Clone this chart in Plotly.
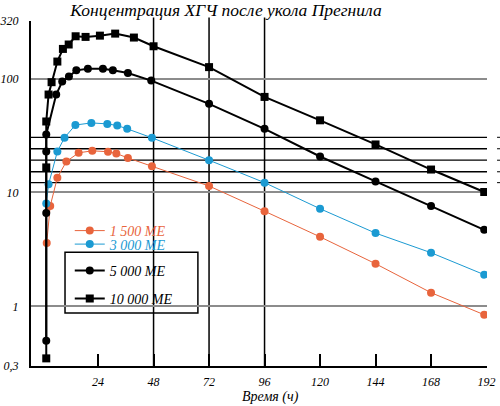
import plotly.graph_objects as go

# hours after the injection / hCG concentration (log scale)
hours_1500 = [1.8, 3.3, 6.4, 10.3, 15.6, 21.5, 28.3, 31.9, 36.9, 47.3, 72, 96, 120, 144, 168, 191]
hcg_1500 = [3.6, 7.6, 13.5, 18.7, 22.3, 23.2, 22.8, 22.0, 20.1, 17.0, 11.4, 6.85, 4.08, 2.37, 1.32, 0.845]

hours_3000 = [1.6, 2.6, 6.4, 9.5, 14.2, 21.1, 28.0, 32.3, 36.6, 47.3, 72, 96, 120, 144, 168, 191]
hcg_3000 = [8.0, 11.8, 22.9, 30.3, 39.1, 40.8, 40.0, 38.7, 36.2, 30.2, 19.2, 12.2, 7.2, 4.4, 2.96, 1.9]

hours_5000 = [1.6, 1.6, 1.6, 1.6, 5.9, 8.5, 11.4, 14.6, 19.6, 26.1, 30.4, 36.9, 47.0, 72, 96, 120, 144, 168, 191]
hcg_5000 = [0.5, 6.6, 22.9, 32.3, 72.4, 94, 104, 118, 122, 122, 118, 112, 96, 60, 36.2, 20.7, 12.5, 7.6, 4.7]

hours_10000 = [1.6, 1.6, 1.6, 2.6, 3.9, 6.4, 8.8, 11.3, 14.3, 18.6, 24.8, 31.4, 39.5, 48, 72, 96, 120, 144, 168, 191]
hcg_10000 = [0.35, 16.6, 42, 72.4, 92.9, 141, 182, 199, 235, 232, 238, 248, 229, 192, 126, 69, 43, 26.4, 15.9, 10.1]

x_ticks = [24, 48, 72, 96, 120, 144, 168, 192]
y_ticks = [0.3, 1, 10, 100, 320]
y_labels = ["0,3", "1", "10", "100", "320"]
hour_lines = [48, 72, 96]
level_lines = [12.2, 15.2, 19.2, 24.2, 30.5]

ORANGE = "#e8643c"
BLUE = "#1b9ad2"
FONT = "Liberation Serif"

fig = go.Figure()

fig.add_trace(go.Scatter(
    x=hours_1500, y=hcg_1500, mode="lines+markers", name="1 500 МЕ",
    line=dict(color=ORANGE, width=1), marker=dict(color=ORANGE, size=8),
    legend="legend", showlegend=True
))
fig.add_trace(go.Scatter(
    x=hours_3000, y=hcg_3000, mode="lines+markers", name="3 000 МЕ",
    line=dict(color=BLUE, width=1), marker=dict(color=BLUE, size=8),
    legend="legend2", showlegend=True
))
fig.add_trace(go.Scatter(
    x=hours_5000, y=hcg_5000, mode="lines+markers", name="5 000 МЕ",
    line=dict(color="black", width=2), marker=dict(color="black", size=8),
    legend="legend3", showlegend=True
))
fig.add_trace(go.Scatter(
    x=hours_10000, y=hcg_10000, mode="lines+markers", name="10 000 МЕ",
    line=dict(color="black", width=2), marker=dict(color="black", size=8, symbol="square"),
    legend="legend4", showlegend=True
))

shapes = []
# white box behind the black-series legends
shapes.append(dict(type="rect", xref="paper", yref="paper", x0=0.0746, x1=0.366, y0=0.1536, y1=0.330,
                   line=dict(color="black", width=1.5), fillcolor="white", layer="between"))
for h in hour_lines:
    shapes.append(dict(type="line", xref="x", yref="paper", x0=h, x1=h, y0=0, y1=1.01,
                       line=dict(color="black", width=1.5), layer="between"))
for v in level_lines:
    shapes.append(dict(type="line", xref="paper", yref="y", x0=0, x1=1, y0=v, y1=v,
                       line=dict(color="black", width=1.3), layer="between"))
    shapes.append(dict(type="line", xref="paper", yref="y", x0=1.022, x1=1.03, y0=v, y1=v,
                       line=dict(color="black", width=1), layer="between"))

leg = dict(bgcolor="rgba(0,0,0,0)", borderwidth=0, xanchor="left", yanchor="middle",
           itemwidth=30)
fig.update_layout(
    width=500, height=406,
    margin=dict(l=31, r=13, t=21, b=40, autoexpand=False),
    paper_bgcolor="white", plot_bgcolor="white",
    font=dict(family=FONT, style="italic", color="black", size=12),
    title=dict(text="Концентрация ХГЧ после укола Прегнила", x=0.452, xref="container",
               y=0.975, yanchor="middle", xanchor="center",
               font=dict(family=FONT, style="italic", size=17.5, color="black")),
    legend=dict(leg, x=0.085, y=(366 - 231) / 345, font=dict(family=FONT, style="italic", size=14, color=ORANGE)),
    legend2=dict(leg, x=0.085, y=(366 - 244.5) / 345, font=dict(family=FONT, style="italic", size=14, color=BLUE)),
    legend3=dict(leg, x=0.085, y=(366 - 271) / 345, font=dict(family=FONT, style="italic", size=14, color="black")),
    legend4=dict(leg, x=0.085, y=(366 - 299) / 345, font=dict(family=FONT, style="italic", size=14, color="black")),
    shapes=shapes,
    annotations=[dict(text="Время (ч)", xref="paper", yref="paper", x=0.526, y=-0.09,
                      xanchor="center", yanchor="middle", showarrow=False,
                      font=dict(family=FONT, style="italic", size=14, color="black"))],
    xaxis=dict(
        range=[-5, 192.2], tickvals=x_ticks, ticks="inside", ticklen=12, tickwidth=2, tickcolor="black",
        showgrid=False, zeroline=False, showline=True, linecolor="black", linewidth=2, automargin=False,
        ticklabelstandoff=4, tickfont=dict(family=FONT, style="italic", size=12),
    ),
    yaxis=dict(
        type="log", range=[-0.5229, 2.5051], tickvals=y_ticks, ticktext=y_labels, ticks="",
        showgrid=True, gridcolor="#8c8c8c", gridwidth=1.5, zeroline=False, automargin=False,
        showline=True, linecolor="black", linewidth=2,
        ticklabelstandoff=8, tickfont=dict(family=FONT, style="italic", size=12),
    ),
)

# drop the browser's default page margin so the figure sits at the window corner
fig.write_html("out.html", config={"displayModeBar": False},
               post_script="document.body.style.margin='0';")
